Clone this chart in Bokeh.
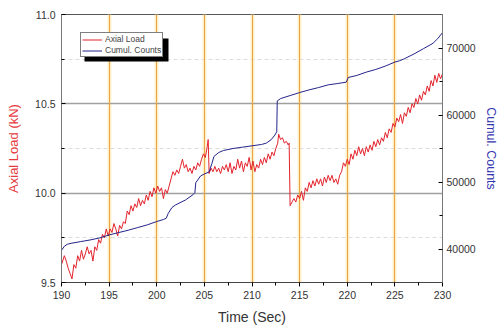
from bokeh.plotting import figure
from bokeh.models import (Range1d, LinearAxis, FixedTicker, Grid, Legend, LegendItem,
                          BoxAnnotation, NumeralTickFormatter)
from bokeh.embed import file_html
from bokeh.resources import INLINE

# ---------------- data ----------------
time_load = [
    190.0, 190.3, 190.5, 190.7, 190.9, 191.1, 191.3, 191.5, 191.7, 191.9,
    192.1, 192.3, 192.5, 192.7, 192.9, 193.1, 193.3, 193.5, 193.7, 193.9,
    194.1, 194.3, 194.5, 194.7, 194.9, 195.1, 195.3, 195.5, 195.7, 195.9,
    196.1, 196.3, 196.5, 196.7, 196.9, 197.1, 197.3, 197.5, 197.7, 197.9,
    198.1, 198.3, 198.5, 198.7, 198.9, 199.1, 199.3, 199.5, 199.7, 199.9,
    200.1, 200.3, 200.5, 200.7, 200.9, 201.1, 201.3, 201.5, 201.7, 201.9,
    202.1, 202.3, 202.5, 202.7, 202.9, 203.1, 203.3, 203.5, 203.7, 203.9,
    204.1, 204.3, 204.5, 204.7, 204.9, 205.1, 205.3, 205.4, 205.5, 205.7,
    205.9, 206.1, 206.3, 206.5, 206.7, 206.9, 207.1, 207.3, 207.5, 207.7,
    207.9, 208.1, 208.3, 208.5, 208.7, 208.9, 209.1, 209.3, 209.5, 209.7,
    209.9, 210.1, 210.3, 210.5, 210.7, 210.9, 211.1, 211.3, 211.5, 211.7,
    211.9, 212.1, 212.3, 212.5, 212.7, 212.8, 213.0, 213.2, 213.4, 213.6,
    213.8, 213.9, 214.0, 214.2, 214.4, 214.6, 214.8, 215.0, 215.2, 215.4,
    215.6, 215.8, 216.0, 216.2, 216.4, 216.6, 216.8, 217.0, 217.2, 217.4,
    217.6, 217.8, 218.0, 218.2, 218.4, 218.6, 218.8, 219.0, 219.2, 219.4,
    219.6, 219.8, 220.0, 220.2, 220.4, 220.6, 220.8, 221.0, 221.2, 221.4,
    221.6, 221.8, 222.0, 222.2, 222.4, 222.6, 222.8, 223.0, 223.2, 223.4,
    223.6, 223.8, 224.0, 224.2, 224.4, 224.6, 224.8, 225.0, 225.2, 225.4,
    225.6, 225.8, 226.0, 226.2, 226.4, 226.6, 226.8, 227.0, 227.2, 227.4,
    227.6, 227.8, 228.0, 228.2, 228.4, 228.6, 228.8, 229.0, 229.2, 229.4,
    229.6, 229.8, 230.0,
]
axial_load = [
    9.60, 9.65, 9.62, 9.58, 9.55, 9.52, 9.60, 9.58, 9.65, 9.62,
    9.68, 9.63, 9.66, 9.70, 9.66, 9.68, 9.62, 9.70, 9.68, 9.74,
    9.72, 9.77, 9.75, 9.80, 9.76, 9.80, 9.78, 9.83, 9.80, 9.76,
    9.82, 9.80, 9.84, 9.83, 9.90, 9.88, 9.93, 9.90, 9.94, 9.92,
    9.97, 9.93, 9.96, 9.94, 9.99, 9.96, 10.01, 9.98, 10.03, 10.00,
    10.04, 10.01, 10.03, 9.97, 10.02, 10.00, 10.04, 10.08, 10.12, 10.10,
    10.13, 10.11, 10.15, 10.19, 10.14, 10.16, 10.12, 10.14, 10.11, 10.15,
    10.13, 10.17, 10.15, 10.19, 10.22, 10.20, 10.26, 10.30, 10.11, 10.14,
    10.12, 10.15, 10.12, 10.14, 10.11, 10.15, 10.13, 10.16, 10.12, 10.17,
    10.11, 10.15, 10.13, 10.19, 10.14, 10.18, 10.12, 10.17, 10.15, 10.20,
    10.13, 10.18, 10.12, 10.16, 10.14, 10.19, 10.16, 10.20, 10.17, 10.22,
    10.19, 10.23, 10.21, 10.25, 10.28, 10.33, 10.30, 10.31, 10.28, 10.29,
    10.27, 10.28, 9.93, 9.95, 9.97, 9.95, 9.99, 9.97, 10.01, 9.96,
    10.03, 10.01, 10.06, 10.03, 10.07, 10.04, 10.08, 10.05, 10.08, 10.04,
    10.09, 10.06, 10.10, 10.07, 10.10, 10.06, 10.08, 10.05, 10.10, 10.12,
    10.17, 10.15, 10.19, 10.16, 10.22, 10.19, 10.24, 10.21, 10.26, 10.22,
    10.25, 10.21, 10.26, 10.23, 10.27, 10.24, 10.29, 10.26, 10.30, 10.27,
    10.31, 10.29, 10.34, 10.31, 10.36, 10.34, 10.39, 10.37, 10.42, 10.40,
    10.44, 10.39, 10.45, 10.43, 10.48, 10.45, 10.50, 10.48, 10.53, 10.50,
    10.55, 10.52, 10.57, 10.55, 10.60, 10.57, 10.63, 10.60, 10.66, 10.62,
    10.67, 10.64, 10.67,
]
time_counts = [
    190.0, 190.3, 190.6, 191.0, 192.0, 193.0, 194.0, 195.0, 196.0, 197.0,
    198.0, 199.0, 200.0, 200.7, 201.0, 201.2, 201.6, 202.0, 203.0, 203.8,
    204.0, 204.1, 204.6, 205.0, 205.5, 205.8, 206.0, 206.5, 207.0, 208.0,
    209.0, 210.0, 211.0, 211.5, 212.0, 212.4, 212.6, 212.65, 213.0, 214.0,
    215.0, 216.0, 217.0, 218.0, 219.0, 219.9, 220.1, 221.0, 222.0, 223.0,
    224.0, 225.0, 225.5, 226.0, 227.0, 228.0, 229.0, 229.5, 230.0,
]
cumul_counts = [
    39800, 40400, 40700, 40850, 41100, 41350, 41650, 42100, 42450, 42800,
    43200, 43600, 44100, 44400, 44600, 45300, 46200, 46600, 47300, 48100,
    48400, 49900, 50900, 51200, 51500, 52800, 53800, 54400, 54700, 55000,
    55200, 55400, 55600, 55800, 56300, 57000, 57500, 62100, 62450, 62900,
    63350, 63750, 64100, 64500, 64700, 64900, 65600, 65900, 66400, 66800,
    67300, 67900, 68100, 68400, 69100, 69900, 70700, 71400, 72300,
]

time_ticks = [190, 195, 200, 205, 210, 215, 220, 225, 230]
time_minor = [192.5, 197.5, 202.5, 207.5, 212.5, 217.5, 222.5, 227.5]
marker_times = [195, 200, 205, 210, 215, 220, 225]
load_ticks = [9.5, 10.0, 10.5, 11.0]
load_minor = [9.75, 10.25, 10.75]
count_ticks = [40000, 50000, 60000, 70000]
count_minor = [45000, 55000, 65000]

RED = "#e3232c"
BLUE = "#23238a"
FONT = "Liberation Sans"
TICK_FS = "10.5px"

p = figure(frame_width=381, frame_height=268,
           x_range=Range1d(190, 230), y_range=Range1d(9.5, 11.0),
           output_backend="svg", toolbar_location=None,
           min_border_left=61, min_border_right=50, min_border_top=14, min_border_bottom=30,
           background_fill_color="white", border_fill_color="white")
p.extra_y_ranges = {"counts": Range1d(35000, 75000)}
p.outline_line_color = "#555555"

# grids
p.xgrid.ticker = FixedTicker(ticks=marker_times)
p.xgrid.grid_line_color = "#fdf3cf"
p.xgrid.grid_line_width = 4
p.add_layout(Grid(dimension=0, ticker=FixedTicker(ticks=marker_times),
                  grid_line_color="#eba544", grid_line_width=1.1))
p.ygrid.ticker = FixedTicker(ticks=load_ticks, minor_ticks=load_minor)
p.ygrid.grid_line_color = "#a0a0a0"
p.ygrid.grid_line_width = 1.3
p.ygrid.minor_grid_line_color = "#dcdcdc"
p.ygrid.minor_grid_line_dash = "4 3"

# bottom axis
xa = p.xaxis[0]
xa.ticker = FixedTicker(ticks=time_ticks, minor_ticks=time_minor)
xa.major_tick_in = 0
xa.major_tick_out = 4
xa.minor_tick_in = 0
xa.minor_tick_out = 3
xa.axis_label = "Time (Sec)"
xa.axis_label_text_font = FONT
xa.axis_label_text_font_style = "normal"
xa.axis_label_text_font_size = "14px"
xa.axis_label_text_color = "#333333"
xa.axis_label_standoff = 7
xa.major_label_text_font = FONT
xa.major_label_text_font_size = TICK_FS
xa.major_label_text_color = "#333333"
xa.major_label_standoff = 4
xa.axis_line_color = "#444444"

# left axis
ya = p.yaxis[0]
ya.ticker = FixedTicker(ticks=load_ticks, minor_ticks=load_minor)
ya.formatter = NumeralTickFormatter(format="0.0")
ya.major_tick_in = 4
ya.major_tick_out = 0
ya.minor_tick_in = 3
ya.minor_tick_out = 0
ya.axis_label = "Axial Load (kN)"
ya.axis_label_text_font = FONT
ya.axis_label_text_font_style = "normal"
ya.axis_label_text_font_size = "13px"
ya.axis_label_text_color = "#e53a40"
ya.axis_label_standoff = 11
ya.major_label_text_font = FONT
ya.major_label_text_font_size = TICK_FS
ya.major_label_text_color = "#333333"
ya.major_label_standoff = 6
ya.axis_line_color = "#777777"

# right axis
ra = LinearAxis(y_range_name="counts",
                ticker=FixedTicker(ticks=count_ticks, minor_ticks=count_minor))
ra.major_tick_in = 4
ra.major_tick_out = 0
ra.minor_tick_in = 3
ra.minor_tick_out = 0
ra.axis_label = "Cumul. Counts"
ra.axis_label_text_font = FONT
ra.axis_label_text_font_style = "normal"
ra.axis_label_text_font_size = "12.5px"
ra.axis_label_text_color = "#3535b0"
ra.axis_label_standoff = 5
ra.major_label_text_font = FONT
ra.major_label_text_font_size = TICK_FS
ra.major_label_text_color = "#333333"
ra.major_label_standoff = 4
ra.axis_line_color = "#777777"
p.add_layout(ra, "right")

# data lines
r1 = p.line(time_load, axial_load, line_color=RED, line_width=1)
r2 = p.line(time_counts, cumul_counts, line_color=BLUE, line_width=1, y_range_name="counts")

# legend shadow + legend
p.add_layout(BoxAnnotation(left=192.415, right=201.233, top=10.866, bottom=10.737,
                           fill_color="black", fill_alpha=1, line_color=None))
legend = Legend(items=[LegendItem(label="Axial Load", renderers=[r1]),
                       LegendItem(label="Cumul. Counts", renderers=[r2])],
                location=(19, 225), margin=0, padding=1, spacing=1,
                glyph_width=20, glyph_height=9, label_height=9, label_standoff=3,
                label_text_font=FONT, label_text_font_size="8.5px",
                border_line_color="black", border_line_width=1,
                background_fill_color="white", background_fill_alpha=1)
p.add_layout(legend)

open("out.html", "w").write(file_html(p, INLINE))
